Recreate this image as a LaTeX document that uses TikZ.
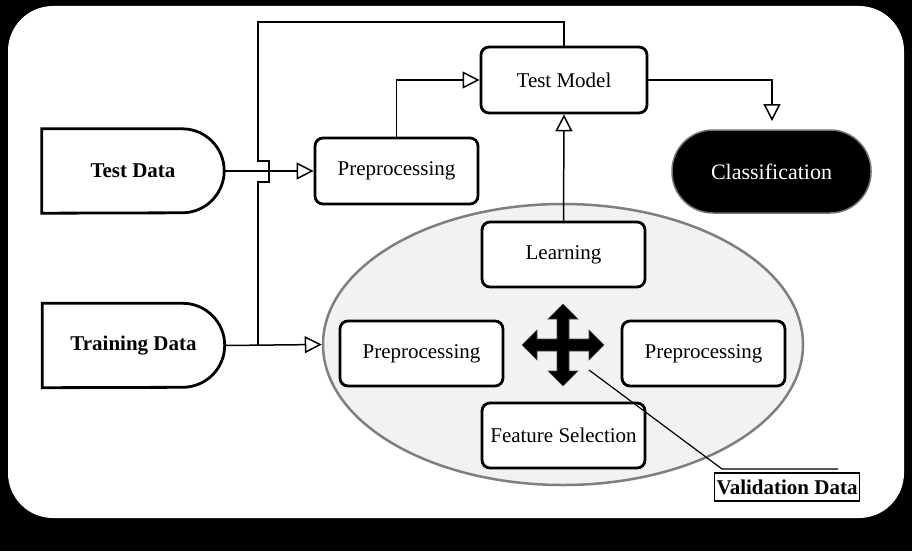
\documentclass[tikz,border=0pt]{standalone}
\usepackage{fontspec}
\setmainfont{Liberation Serif}
\usetikzlibrary{arrows.meta,shapes.geometric}
\definecolor{poolfill}{HTML}{F2F2F2}
\definecolor{poolline}{HTML}{7F7F7F}
\begin{document}
\begin{tikzpicture}[x=1pt,y=-1pt,
  txt/.style={font=\fontsize{21}{25}\selectfont},
  boldtxt/.style={font=\fontsize{21}{25}\selectfont\bfseries},
  proc/.style={txt, draw, line width=2.8pt, rounded corners=8pt, fill=white,
    minimum width=163pt, minimum height=65pt, inner sep=0pt},
  databox/.style={boldtxt, minimum width=182pt, minimum height=84pt, inner sep=0pt},
  link/.style={line width=1.5pt},
  opentip/.style={-{Triangle[open,length=17pt,width=17pt,line width=1.5pt]}}
]
\useasboundingbox (0,0) rectangle (912,551);
% frame
\fill[black] (0,0) rectangle (912,551);
\fill[white, rounded corners=45pt] (8,6) rectangle (904,518);

% training pool
\node[ellipse, draw=poolline, fill=poolfill, line width=2.5pt,
  minimum width=480pt, minimum height=281pt, inner sep=0pt] (pool) at (563,344.5) {};

% data sources (flat left side, round right side)
\node[databox] (td) at (133,171) {Test Data};
\draw[line width=2.8pt] (td.north west) -- ([xshift=-42pt]td.north east)
  arc[start angle=90, end angle=-90, radius=42pt] -- (td.south west) -- cycle;
\node[databox] (trd) at (133.5,345.5) {Training Data};
\draw[line width=2.8pt] (trd.north west) -- ([xshift=-42pt]trd.north east)
  arc[start angle=90, end angle=-90, radius=42pt] -- (trd.south west) -- cycle;

% process boxes
\node[proc, minimum width=166pt, minimum height=66pt] (tm) at (564,80) {Test Model};
\node[proc, minimum height=66pt] (pp1) at (396.5,171) {Preprocessing};
\node[proc] (lrn) at (563.5,254.5) {Learning};
\node[proc] (ppl) at (421.5,353.5) {Preprocessing};
\node[proc] (ppr) at (703.5,353.5) {Preprocessing};
\node[proc] (fs) at (563.5,435.5) {Feature Selection};

% result
\node[txt, draw=black!55, fill=black, text=white, line width=1.5pt,
  rounded corners=41pt, minimum width=199pt, minimum height=83pt] (cls)
  at (771.5,171.5) {\fontsize{22}{26}\selectfont Classification};

% four-way move symbol
\fill[black, draw=black!70, line width=0.6pt, shift={(563,345)}]
  (0,-41) -- (15,-26) -- (6,-26) -- (6,-6) -- (26,-6) -- (26,-15) -- (41,0)
  -- (26,15) -- (26,6) -- (6,6) -- (6,26) -- (15,26) -- (0,41) -- (-15,26)
  -- (-6,26) -- (-6,6) -- (-26,6) -- (-26,15) -- (-41,0) -- (-26,-15)
  -- (-26,-6) -- (-6,-6) -- (-6,-26) -- (-15,-26) -- cycle;

% connectors
\draw[link, opentip] (td.east) -- (pp1.west);
\draw[link, opentip] (trd.east) -- (pool.west);
\draw[link, opentip] (pp1.north) |- (tm.west);
\draw[link, opentip] (lrn.north) -- (tm.south);
\coordinate (clsin) at (772,121);
\draw[link, opentip] (tm.east) -| (clsin);
\coordinate (split) at (258,345.5);
\draw[link] (split) -- (258,182) -- (269,182) -- (269,161) -- (258,161)
  -- (258,22) -| (tm.north);

% validation callout
\node[boldtxt, draw, line width=1.3pt, fill=white, inner xsep=2pt, inner ysep=0pt,
  minimum height=28pt] (vd) at (787,487) {Validation Data};
\coordinate (vfrom) at (589,370);
\coordinate (vknee) at (722,469);
\coordinate (vend) at (838,469);
\draw[line width=1.2pt] (vfrom) -- (vknee) -- (vend);
\end{tikzpicture}
\end{document}
